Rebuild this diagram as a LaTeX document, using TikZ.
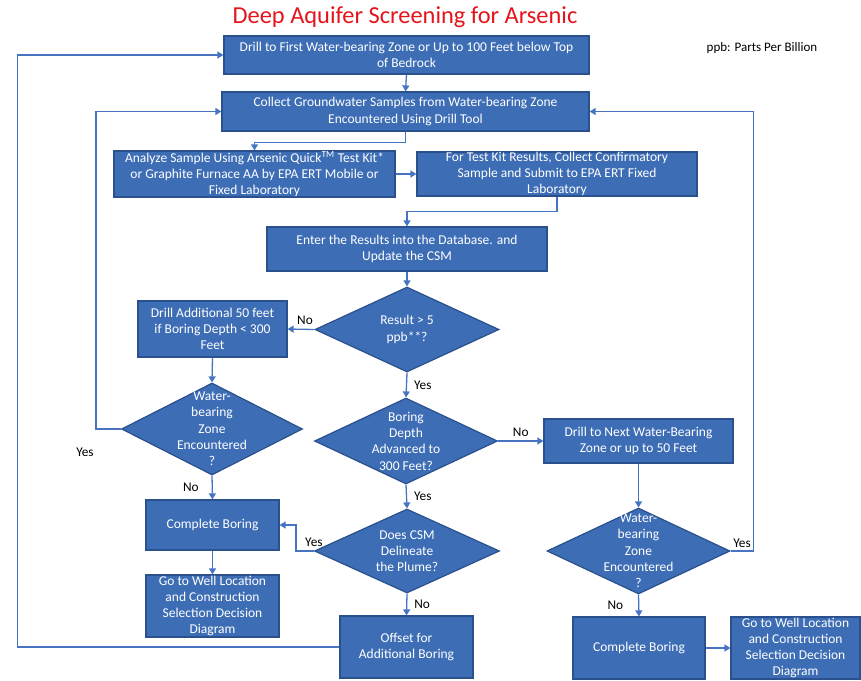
\documentclass[tikz,border=0pt]{standalone}
\usepackage{fontspec}
\setmainfont{Carlito}
\usetikzlibrary{shapes.geometric,arrows.meta}
\definecolor{boxfill}{RGB}{61,109,181}
\definecolor{boxline}{RGB}{42,80,142}
\definecolor{flowline}{RGB}{70,116,194}
\definecolor{titlered}{RGB}{228,20,28}

\begin{document}
\begin{tikzpicture}[x=1pt, y=-1pt,
    box/.style={draw=boxline, fill=boxfill, line width=1.2pt, text=white, align=center, inner sep=0pt, font=\fontsize{13.5}{16.3}\selectfont},
    dia/.style={diamond, draw=boxline, fill=boxfill, line width=1.2pt, inner sep=0pt},
    diatext/.style={text=white, align=center, inner sep=0pt, font=\fontsize{13.5}{16.3}\selectfont},
    flow/.style={draw=flowline, line width=1.3pt, -{Triangle[width=7pt,length=6pt]}},
    lbl/.style={font=\fontsize{13.3}{16}\selectfont, inner sep=1pt}]

    \useasboundingbox (0,0) rectangle (861,680);

    \node[text=titlered, font=\fontsize{24.4}{28}\selectfont] (title) at (405,17) {Deep Aquifer Screening for Arsenic};
    \node[font=\fontsize{13}{15}\selectfont] (ppb) at (762,48) {ppb: Parts Per Billion};

    % boxes
    \node[box, minimum width=365pt, minimum height=38pt] (drill) at (406.5,55) {Drill to First Water-bearing Zone or Up to 100 Feet below Top\\of Bedrock};
    \node[box, minimum width=367pt, minimum height=39pt] (collect) at (405.5,111.5) {Collect Groundwater Samples from Water-bearing Zone\\Encountered Using Drill Tool};
    \node[box, minimum width=281pt, minimum height=44pt] (analyze) at (254.5,174) {Analyze Sample Using Arsenic Quick\textsuperscript{TM} Test Kit*\\or Graphite Furnace AA by EPA ERT Mobile or\\Fixed Laboratory};
    \node[box, minimum width=280pt, minimum height=44pt] (confirm) at (557,174) {For Test Kit Results, Collect Confirmatory\\Sample and Submit to EPA ERT Fixed\\Laboratory};
    \node[box, minimum width=280pt, minimum height=44pt] (enter) at (407,249) {Enter the Results into the Database. and\\Update the CSM};
    \node[box, minimum width=149pt, minimum height=56pt] (addl) at (212.5,329) {Drill Additional 50 feet\\if Boring Depth < 300\\Feet};
    \node[box, minimum width=189pt, minimum height=44pt] (next) at (638.5,441) {Drill to Next Water-Bearing\\Zone or up to 50 Feet};
    \node[box, minimum width=133pt, minimum height=50pt] (cbleft) at (212.5,525) {Complete Boring};
    \node[box, minimum width=133pt, minimum height=62pt] (goleft) at (212.5,606) {Go to Well Location\\and Construction\\Selection Decision\\Diagram};
    \node[box, minimum width=133pt, minimum height=62pt] (offset) at (406.5,647) {Offset for\\Additional Boring};
    \node[box, minimum width=132pt, minimum height=62pt] (cbright) at (639,648) {Complete Boring};
    \node[box, minimum width=129pt, minimum height=62pt] (goright) at (795.5,648) {Go to Well Location\\and Construction\\Selection Decision\\Diagram};

    % decisions
    \node[dia, minimum width=184pt, minimum height=85pt, label={[diatext]center:Result > 5\\ppb**?}] (result) at (407,329.5) {};
    \node[dia, minimum width=181pt, minimum height=92pt, label={[diatext]center:Water-\\bearing\\Zone\\Encountered\\?}] (wzleft) at (212,429) {};
    \node[dia, minimum width=183pt, minimum height=86pt, label={[diatext]center:Boring\\Depth\\Advanced to\\300 Feet?}] (boring) at (406,441) {};
    \node[dia, minimum width=185pt, minimum height=84pt, label={[diatext]center:Does CSM\\Delineate\\the Plume?}] (csm) at (407,551) {};
    \node[dia, minimum width=183pt, minimum height=86pt, label={[diatext]center:Water-\\bearing\\Zone\\Encountered\\?}] (wzright) at (638.5,551) {};

    \node[lbl] (yesloop) at (85,452) {Yes};

    % connectors
    \draw[flow] (drill.south) -- (collect.north);
    \draw[flow] (collect.south) -- ++(0,11) -| (analyze.north);
    \draw[flow] (analyze.east) -- (confirm.west);
    \draw[flow] (confirm.south) -- ++(0,15) -| (enter.north);
    \draw[flow] (enter.south) -- (result.north);
    \draw[flow] (result.west) -- node[lbl, above=3pt, pos=0.35] {No} (addl.east);
    \draw[flow] (result.south) -- node[lbl, right=6pt] {Yes} (boring.north);
    \draw[flow] (addl.south) -- (wzleft.north);
    \draw[flow] (wzleft.west) -- ++(-25,0) |- (collect.west);
    \draw[flow] (wzleft.south) -- node[lbl, left=12pt] {No} (cbleft.north);
    \draw[flow] (boring.east) -- node[lbl, above=3pt] {No} (next.west);
    \draw[flow] (boring.south) -- node[lbl, right=6pt] {Yes} (csm.north);
    \draw[flow] (next.south) -- (wzright.north);
    \draw[flow] (wzright.east) -- node[lbl, above=2pt] {Yes} ++(23,0) |- (collect.east);
    \draw[flow] (wzright.south) -- node[lbl, left=14pt] {No} (cbright.north);
    \draw[flow] (cbright.east) -- (goright.west);
    \draw[flow] (csm.west) node[lbl, above=3pt] {Yes} -- ++(-18,0) |- (cbleft.east);
    \draw[flow] (csm.south) -- node[lbl, right=6pt] {No} (offset.north);
    \draw[flow] (cbleft.south) -- (goleft.north);
    \draw[flow] (offset.west) -- ++(-322,0) |- (drill.west);
\end{tikzpicture}
\end{document}
